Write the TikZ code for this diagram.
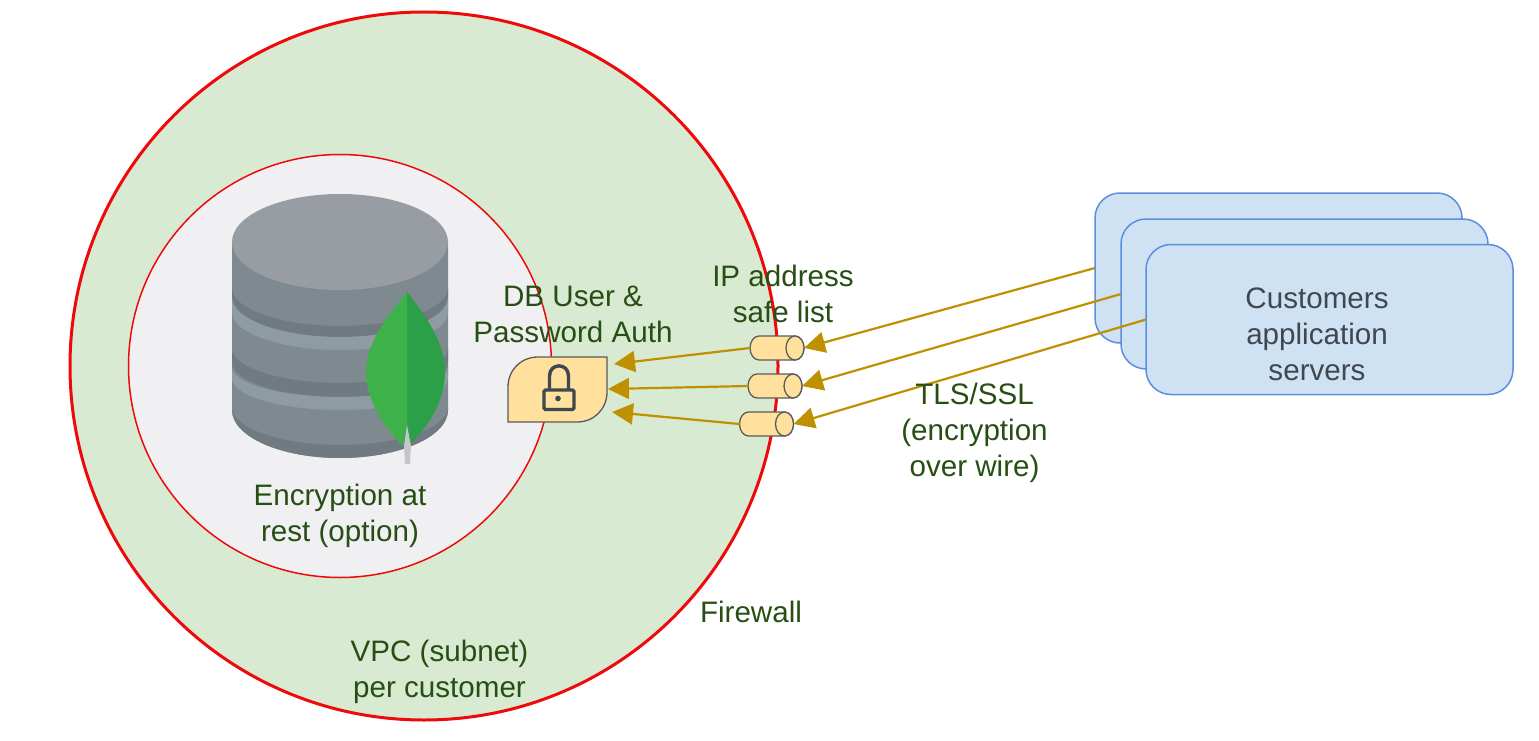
\documentclass[tikz,border=0pt]{standalone}
\usepackage{fontspec}
\setmainfont{Liberation Sans}
\usetikzlibrary{arrows.meta}
\definecolor{vpcfill}{HTML}{D9EAD3}
\definecolor{innerfill}{HTML}{F0F0F3}
\definecolor{fwred}{HTML}{EE0A0A}
\definecolor{txtgreen}{HTML}{274E13}
\definecolor{arrowgold}{HTML}{BF9000}
\definecolor{boxfill}{HTML}{CFE2F3}
\definecolor{boxline}{HTML}{5A8FDD}
\definecolor{tagfill}{HTML}{FFE09C}
\definecolor{tagline}{HTML}{5A5A5A}
\definecolor{lockcol}{HTML}{3F4750}
\definecolor{dbtop}{HTML}{989DA3}
\definecolor{dbbody}{HTML}{7E8A90}
\definecolor{dbdark}{HTML}{6F7B80}
\definecolor{dblight}{HTML}{8F9BA3}
\definecolor{leafl}{HTML}{3FB14B}
\definecolor{leafr}{HTML}{2BA049}
\definecolor{stem}{HTML}{C3C6CA}
\tikzset{
  lbl/.style={text=txtgreen,align=center,inner sep=0pt,font=\fontsize{29.6}{36}\selectfont},
  srv/.style={draw=boxline,fill=boxfill,line width=1.5pt,rounded corners=25pt,minimum width=367pt,minimum height=150pt,inner sep=0pt,outer sep=0pt},
  portbox/.style={minimum width=54pt,minimum height=24pt,inner sep=0pt,outer sep=0pt},
  portline/.style={draw=tagline,line width=1.3pt,fill=tagfill},
  flow/.style={draw=arrowgold,line width=2.2pt,-{Triangle[length=21pt,width=21pt,fill=arrowgold]}}
}
\newcommand{\dbband}[5]{%
  \pgfmathsetmacro\ya{#1+0.5523*#2}\pgfmathsetmacro\yb{#1+#2}%
  \pgfmathsetmacro\yc{#3+0.5523*#4}\pgfmathsetmacro\yd{#3+#4}%
  \fill[#5] (232,#1) .. controls (232,\ya) and (280.4,\yb) .. (340,\yb)
    .. controls (399.6,\yb) and (448,\ya) .. (448,#1) -- (448,#3)
    .. controls (448,\yc) and (399.6,\yd) .. (340,\yd)
    .. controls (280.4,\yd) and (232,\yc) .. (232,#3) -- cycle;}
\newcommand{\portcyl}[3]{%
  \node[portbox] (#1) at (#2,#3) {};
  \pgfmathsetmacro\xa{#2-18}\pgfmathsetmacro\xb{#2+18}%
  \pgfmathsetmacro\xc{#2-27}\pgfmathsetmacro\xd{#2+27}%
  \pgfmathsetmacro\yt{#3-12}\pgfmathsetmacro\yb{#3+12}%
  \pgfmathsetmacro\yta{#3-6.6}\pgfmathsetmacro\yba{#3+6.6}%
  \pgfmathsetmacro\xg{#2+13}%
  \draw[portline] (\xa,\yt) -- (\xb,\yt) .. controls (\xd-4,\yt) and (\xd,\yta) .. (\xd,#3)
    .. controls (\xd,\yba) and (\xd-4,\yb) .. (\xb,\yb) -- (\xa,\yb)
    .. controls (\xc+4,\yb) and (\xc,\yba) .. (\xc,#3)
    .. controls (\xc,\yta) and (\xc+4,\yt) .. (\xa,\yt) -- cycle;
  \draw[portline] (\xb,\yt) .. controls (\xg,\yt) and (\xb-9,\yta) .. (\xb-9,#3)
    .. controls (\xb-9,\yba) and (\xg,\yb) .. (\xb,\yb)
    .. controls (\xd-4,\yb) and (\xd,\yba) .. (\xd,#3)
    .. controls (\xd,\yta) and (\xd-4,\yt) .. (\xb,\yt) -- cycle;}
\begin{document}
\begin{tikzpicture}[x=1pt,y=-1pt]
\useasboundingbox (0,0) rectangle (1539,741);
% circles
\node[circle,draw=fwred,fill=vpcfill,line width=3pt,minimum size=708pt,inner sep=0pt,outer sep=0pt] (vpc) at (424,366) {};
\node[circle,draw=fwred,fill=innerfill,line width=1.5pt,minimum size=423pt,inner sep=0pt,outer sep=0pt] (rest) at (340,366) {};
% database
\dbband{242}{0}{410}{48}{dbbody}
\dbband{407}{38}{410}{48}{dbdark}
\dbband{288}{38}{297}{40}{dbdark}
\dbband{297}{40}{312}{38}{dblight}
\dbband{348}{35}{362}{35}{dbdark}
\dbband{367}{30}{378}{32}{dblight}
\fill[dbtop] (340,242) ellipse [x radius=108,y radius=48];
% leaf
\fill[leafl] (407,292) .. controls (388,316) and (366,342) .. (366,373)
  .. controls (366,400) and (385,428) .. (403,446) -- (407,425) -- cycle;
\fill[leafr] (407,292) .. controls (425,315) and (445,342) .. (445,372)
  .. controls (445,402) and (427,428) .. (410,444) -- (407,425) -- cycle;
\fill[stem] (407,425) -- (411,446) -- (410,464) -- (405,464) -- (404,446) -- cycle;
% lock tag
\node[minimum width=99pt,minimum height=65pt,inner sep=0pt,outer sep=0pt] (lock) at (557.5,389.5) {};
\draw[draw=tagline,fill=tagfill,line width=1.3pt] (lock.south west) -- (508,387)
  .. controls (508,370) and (521,357) .. (538,357) -- (lock.north east) -- (607,392)
  .. controls (607,409) and (594,422) .. (577,422) -- cycle;
\draw[lockcol,line width=3.4pt] (549.5,389) -- (549.5,376) .. controls (549.5,362.5) and (568.5,362.5) .. (568.5,376) -- (568.5,389);
\draw[lockcol,line width=3.4pt,rounded corners=1.5pt] (544,390) rectangle (574,409.5);
\fill[lockcol] (558,398.5) circle (2.8);
% port cylinders
\portcyl{p1}{777}{348}
\portcyl{p2}{775}{386}
\portcyl{p3}{766.5}{424}
% servers
\node[srv] (s1) at (1278.5,268) {};
\node[srv] (s2) at (1304.5,294) {};
\node[srv] (s3) at (1329.5,319.5) {};
% connectors
\coordinate (t1) at (614,364);
\coordinate (t2) at (608,389);
\coordinate (t3) at (612,412);
\draw[flow] (p1.west) -- (t1);
\draw[flow] (p2.west) -- (t2);
\draw[flow] (p3.west) -- (t3);
\draw[flow] (s1.west) -- (p1.east);
\draw[flow] (s2.west) -- (p2.east);
\draw[flow] (s3.west) -- (p3.east);
% labels
\node[lbl] (l1) at (340,516) {Encryption at\\rest (option)};
\node[lbl] (l2) at (573,314) {DB User \&\\Password Auth};
\node[lbl] (l3) at (783,294) {IP address\\safe list};
\node[lbl] (l4) at (974.5,433) {TLS/SSL\\(encryption\\over wire)};
\node[lbl] (l5) at (751,612) {Firewall};
\node[lbl] (l6) at (439.5,672) {VPC (subnet)\\per customer};
\node[lbl,text=lockcol] (l7) at (1317,334) {Customers\\application\\servers};
\end{tikzpicture}
\end{document}
